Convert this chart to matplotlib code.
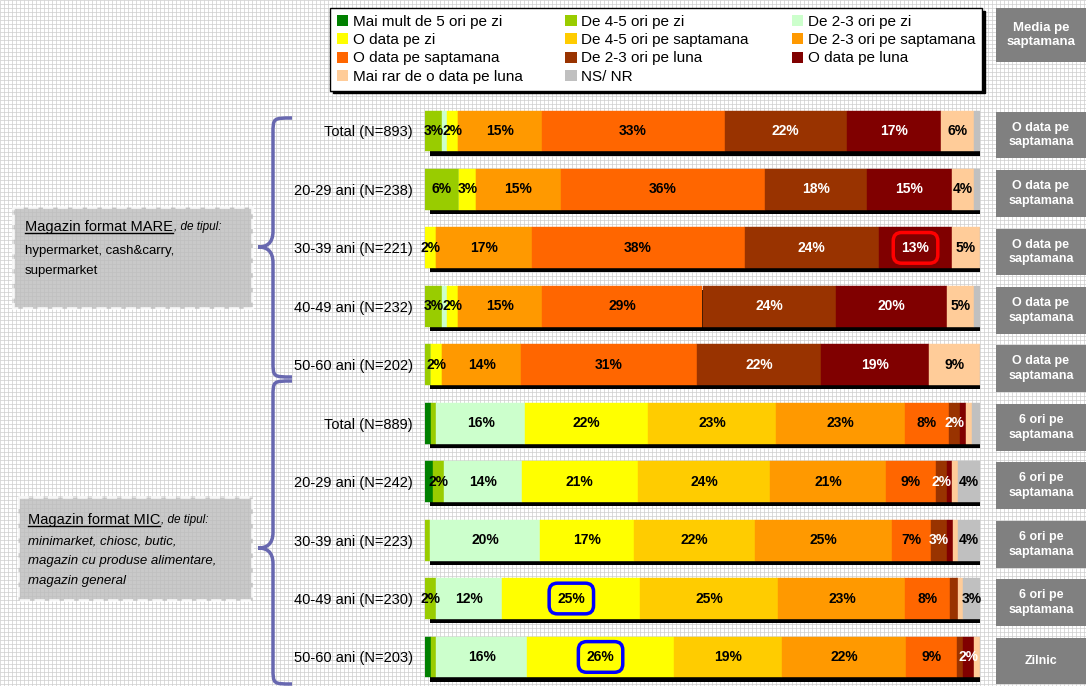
import matplotlib
matplotlib.use('Agg')
import matplotlib.pyplot as plt
import numpy as np
from matplotlib.patches import Rectangle, Patch, PathPatch
from matplotlib.path import Path
from matplotlib.lines import Line2D
from matplotlib.transforms import Affine2D, IdentityTransform, blended_transform_factory

plt.rcParams['font.family'] = ['Liberation Sans', 'DejaVu Sans']

# ---- data -------------------------------------------------------------
rows = ['Total (N=893)', '20-29 ani (N=238)', '30-39 ani (N=221)',
        '40-49 ani (N=232)', '50-60 ani (N=202)',
        'Total (N=889)', '20-29 ani (N=242)', '30-39 ani (N=223)',
        '40-49 ani (N=230)', '50-60 ani (N=203)']

series = ['Mai mult de 5 ori pe zi', 'De 4-5 ori pe zi', 'De 2-3 ori pe zi',
          'O data pe zi', 'De 4-5 ori pe saptamana', 'De 2-3 ori pe saptamana',
          'O data pe saptamana', 'De 2-3 ori pe luna', 'O data pe luna',
          'Mai rar de o data pe luna', 'NS/ NR']

mai_mult_5_zi = [0, 0, 0, 0, 0, 1, 1.5, 0, 0, 1]
de_4_5_zi     = [3, 6, 0, 3, 1, 1, 2, 1, 2, 1]
de_2_3_zi     = [1, 0, 0, 1, 0, 16, 14, 20, 12, 16]
o_data_zi     = [2, 3, 2, 2, 2, 22, 21, 17, 25, 26]
de_4_5_sapt   = [0, 0, 0, 0, 0, 23, 24, 22, 25, 19]
de_2_3_sapt   = [15, 15, 17, 15, 14, 23, 21, 25, 23, 22]
o_data_sapt   = [33, 36, 38, 29, 31, 8, 9, 7, 8, 9]
de_2_3_luna   = [22, 18, 24, 24, 22, 2, 2, 3, 1.5, 1]
o_data_luna   = [17, 15, 13, 20, 19, 1, 1, 1, 0, 2]
mai_rar_luna  = [6, 4, 5, 5, 9, 1, 1, 1, 1, 1]
ns_nr         = [1, 1, 0, 1, 0, 1.5, 4, 4, 3, 0]

media = ['O data pe\nsaptamana'] * 5 + ['6 ori pe\nsaptamana'] * 4 + ['Zilnic']

values = np.array([mai_mult_5_zi, de_4_5_zi, de_2_3_zi, o_data_zi, de_4_5_sapt,
                   de_2_3_sapt, o_data_sapt, de_2_3_luna, o_data_luna,
                   mai_rar_luna, ns_nr], dtype=float)

colors = ['#008000', '#99cc00', '#ccffcc', '#ffff00', '#ffcc00', '#ff9900',
          '#ff6600', '#993300', '#800000', '#ffcc99', '#c0c0c0']
white_text = {7, 8}
highlights = {(2, 8): '#ff0000', (8, 3): '#0000ff', (9, 3): '#0000ff'}

# ---- figure -----------------------------------------------------------
W, H = 1086, 686
fig = plt.figure(figsize=(W / 100, H / 100), dpi=100)
px = Affine2D().scale(1 / W, -1 / H).translate(0, 1) + fig.transFigure

# grid paper background
bg = fig.add_axes([0, 0, 1, 1], zorder=-10)
bg.set_xlim(0, W)
bg.set_ylim(H, 0)
bg.axis('off')
bg.vlines(np.arange(0, W, 4), 0, H, color='#cdcdcd', lw=0.5)
bg.hlines(np.arange(0, H, 4), 0, W, color='#cdcdcd', lw=0.5)

# bars
ax = fig.add_axes([425 / W, 0, 555 / W, (H - 102) / H])
ax.set_facecolor('none')
ax.set_xlim(0, 100)
ax.set_ylim(9.497, -0.496)
for s in ax.spines.values():
    s.set_visible(False)
ax.set_xticks([])
ax.set_yticks(range(len(rows)), rows, fontsize=10.5)
ax.tick_params(axis='y', length=0, pad=9)

y = np.arange(len(rows))
h = 0.70
pct = values / values.sum(axis=0) * 100   # 100% stacked

ax.barh(y + 0.07, 100, left=0.9, height=h, color='black', zorder=1)
left = np.zeros(len(rows))
for k in range(len(series)):
    ax.barh(y, pct[k], left=left, height=h, color=colors[k],
            edgecolor=colors[k], lw=0.3, zorder=2)
    for i in range(len(rows)):
        v = values[k, i]
        if v >= 2:
            kw = {}
            if (i, k) in highlights:
                kw['bbox'] = dict(boxstyle='round,pad=0.6', fc='none',
                                  ec=highlights[(i, k)], lw=2.5)
            ax.text(left[i] + pct[k, i] / 2, y[i], f'{v:.0f}%', ha='center',
                    va='center', fontsize=10, fontweight='bold', zorder=4,
                    color='white' if k in white_text else 'black', **kw)
    left += pct[k]

# right column "Media pe saptamana"
fig.add_artist(Rectangle((996, 8), 100, 54, transform=px, fc='#808080', ec='none'))
fig.text(1041, 35, 'Media pe\nsaptamana', transform=px, ha='center', va='center',
         color='white', fontsize=9.5, fontweight='bold', linespacing=1.3)
bt = blended_transform_factory(fig.transFigure, ax.transData)
for i, m in enumerate(media):
    fig.add_artist(Rectangle((996 / W, i + 0.07 - 0.4), 100 / W, 0.8,
                             transform=bt, fc='#808080', ec='none'))
    fig.text(1041 / W, i + 0.07, m, transform=bt, ha='center', va='center',
             color='white', fontsize=9, fontweight='bold', linespacing=1.3)

# legend
order = [0, 3, 6, 9, 1, 4, 7, 10, 2, 5, 8]
handles = [Patch(facecolor=colors[k], edgecolor='none') for k in order]
leg = fig.legend(handles, [series[k] for k in order], loc='upper left',
                 bbox_to_anchor=(330 / W, 1 - 88 / H, 652 / W, 80 / H),
                 mode='expand', ncol=3, fontsize=11, frameon=True,
                 fancybox=False, edgecolor='black', handlelength=0.75,
                 handleheight=0.75, handletextpad=0.3, labelspacing=0.28,
                 borderpad=0.45, borderaxespad=0,
                 shadow={'color': 'black', 'alpha': 1})
leg.get_frame().set_linewidth(1)
leg.get_frame().set_alpha(1)


# braces
def brace(y_top, y_mid, y_bot, x_tip=258, x_line=273, x_end=292, r=16):
    verts = [(x_end, y_top), (x_line, y_top), (x_line, y_top), (x_line, y_top + r),
             (x_line, y_mid - r),
             (x_line, y_mid - 3), (x_tip + 8, y_mid), (x_tip, y_mid),
             (x_tip + 8, y_mid), (x_line, y_mid + 3), (x_line, y_mid + r),
             (x_line, y_bot - r),
             (x_line, y_bot), (x_line, y_bot), (x_end, y_bot)]
    codes = [Path.MOVETO, Path.CURVE4, Path.CURVE4, Path.CURVE4, Path.LINETO,
             Path.CURVE4, Path.CURVE4, Path.CURVE4,
             Path.CURVE4, Path.CURVE4, Path.CURVE4, Path.LINETO,
             Path.CURVE4, Path.CURVE4, Path.CURVE4]
    fig.add_artist(PathPatch(Path(verts, codes), transform=px, fc='none',
                             ec='#6868b0', lw=2.5))


brace(118, 247, 377)
brace(381, 548, 684)

# group boxes
fig.add_artist(Rectangle((13, 207), 239, 101, transform=px, fc='#bcbcbc',
                         alpha=0.8, ec='white', ls='--', lw=2))
fig.add_artist(Rectangle((18, 497), 234, 103, transform=px, fc='#bcbcbc',
                         alpha=0.8, ec='white', ls='--', lw=2))

t1 = fig.text(25, 227, 'Magazin format MARE', transform=px, va='center', fontsize=10.5)
fig.text(25, 251, 'hypermarket, cash&carry,', transform=px, va='center', fontsize=9.5)
fig.text(25, 271, 'supermarket', transform=px, va='center', fontsize=9.5)
t2 = fig.text(28, 520, 'Magazin format MIC', transform=px, va='center', fontsize=10.5)
for yy, line in zip([541, 561, 581], ['minimarket, chiosc, butic,',
                                      'magazin cu produse alimentare,',
                                      'magazin general']):
    fig.text(28, yy, line, transform=px, va='center', fontsize=9.5, style='italic')

fig.canvas.draw()
r = fig.canvas.get_renderer()
for t, yy in [(t1, 227), (t2, 520)]:
    bb = t.get_window_extent(r)
    fig.add_artist(Line2D([bb.x0, bb.x1], [bb.y0 + 1, bb.y0 + 1], color='black',
                          lw=1, transform=IdentityTransform()))
    fig.text(bb.x1 + 1, yy, ', de tipul:', transform=px, va='center',
             fontsize=8.5, style='italic')

fig.savefig('out.png', dpi=100)
